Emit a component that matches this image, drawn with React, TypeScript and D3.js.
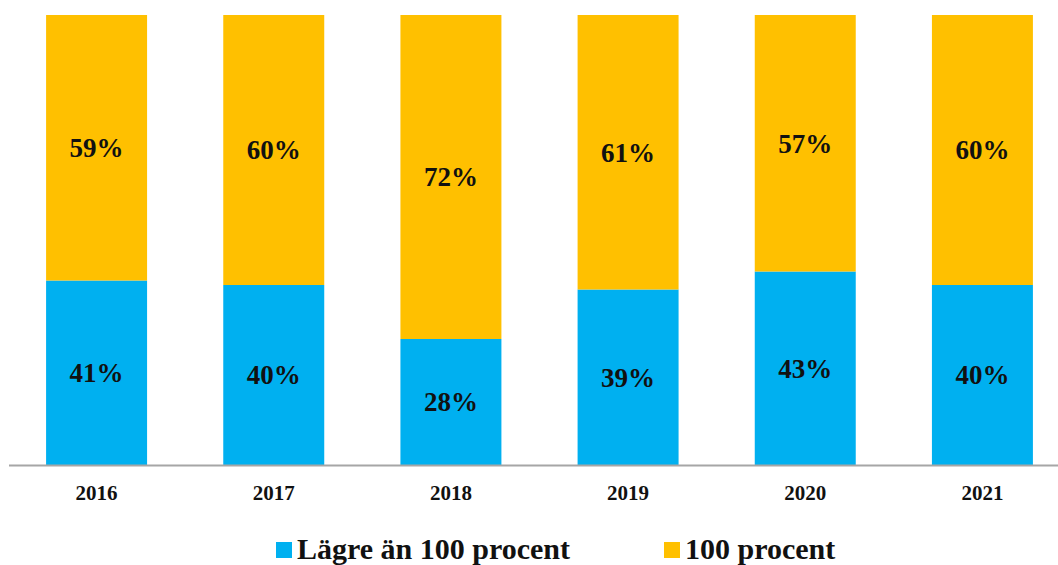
import React from 'react'
import * as d3 from 'd3'

const years = ['2016', '2017', '2018', '2019', '2020', '2021']
const lowerShare = [41, 40, 28, 39, 43, 40]
const fullShare = [59, 60, 72, 61, 57, 60]
const seriesNames = ['Lägre än 100 procent', '100 procent']
const seriesColors = ['#00B0F0', '#FFC000']

const W = 1058
const H = 565
const font = "'Liberation Serif', 'DejaVu Serif', serif"

export default function App() {
  const x = d3.scaleBand<string>()
    .domain(years)
    .range([8, 1071])
    .paddingInner(0.43)
    .paddingOuter(0.215)

  const y = d3.scaleLinear().domain([0, 100]).range([465, 15])

  const rows = years.map((year, i) => ({ year, lower: lowerShare[i], full: fullShare[i] }))
  const stack = d3.stack<typeof rows[number]>().keys(['lower', 'full'])
  const layers = stack(rows)

  return (
    <svg
      width={W}
      height={H}
      style={{ position: 'absolute', left: 0, top: 0, background: '#fff', fontFamily: font }}
    >
      {layers.map((layer, li) => (
        <g key={li}>
          {layer.map((d, i) => {
            const top = y(d[1])
            const bottom = y(d[0])
            return (
              <g key={i}>
                <rect
                  x={x(years[i])}
                  y={top}
                  width={x.bandwidth()}
                  height={bottom - top}
                  fill={seriesColors[li]}
                />
                <text
                  x={(x(years[i]) || 0) + x.bandwidth() / 2}
                  y={(top + bottom) / 2}
                  dy="0.35em"
                  textAnchor="middle"
                  style={{ fontFamily: font, fontSize: 27, fontWeight: 700 }}
                  fill="#111"
                >
                  {(li === 0 ? lowerShare[i] : fullShare[i]) + '%'}
                </text>
              </g>
            )
          })}
        </g>
      ))}

      {/* baseline */}
      <line x1={9} x2={W} y1={465.5} y2={465.5} stroke="#a6a6a6" strokeWidth={2} />

      {years.map(yr => (
        <text
          key={yr}
          x={(x(yr) || 0) + x.bandwidth() / 2}
          y={500}
          textAnchor="middle"
          style={{ fontFamily: font, fontSize: 21, fontWeight: 700 }}
          fill="#111"
        >
          {yr}
        </text>
      ))}

      {/* legend */}
      <g style={{ fontFamily: font, fontSize: 30, fontWeight: 700 }}>
        <rect x={276} y={542} width={16} height={16} fill={seriesColors[0]} />
        <text x={297} y={559} fill="#111">{seriesNames[0]}</text>
        <rect x={664} y={542} width={16} height={16} fill={seriesColors[1]} />
        <text x={685} y={559} fill="#111">{seriesNames[1]}</text>
      </g>
    </svg>
  )
}
